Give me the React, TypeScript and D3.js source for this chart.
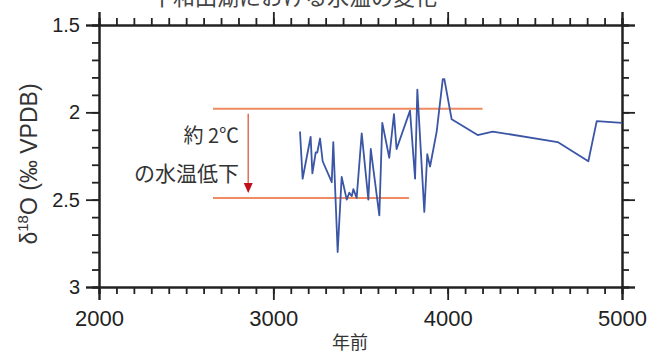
import React, { useEffect, useRef } from 'react';
import * as d3 from 'd3';

// years before present / delta 18O values
const years = [3153, 3168, 3214, 3224, 3243, 3252, 3268, 3283, 3335, 3344, 3369, 3392, 3421, 3436, 3450, 3459, 3478, 3507, 3545, 3559, 3608, 3625, 3665, 3692, 3707, 3784, 3813, 3826, 3866, 3883, 3899, 3937, 3972, 3981, 4023, 4172, 4258, 4631, 4807, 4855, 5000];
const d18O = [2.11, 2.38, 2.14, 2.35, 2.23, 2.23, 2.15, 2.28, 2.40, 2.17, 2.80, 2.37, 2.50, 2.46, 2.48, 2.44, 2.49, 2.12, 2.50, 2.21, 2.59, 2.06, 2.26, 2.01, 2.21, 1.99, 2.38, 1.87, 2.57, 2.24, 2.31, 2.11, 1.81, 1.81, 2.04, 2.13, 2.11, 2.17, 2.28, 2.05, 2.06];

// orange reference levels: [value, start year, end year]
const levelValues = [1.98, 2.49];
const levelStart = [2654, 2654];
const levelEnd = [4200, 3778];
const arrowYear = 2856;

const xTicks = [2000, 3000, 4000, 5000];
const yTicks = [1.5, 2, 2.5, 3];

const W = 651, H = 354;
const CJK = '"Noto Sans CJK JP", "Liberation Sans", sans-serif';
const SANS = '"Liberation Sans", Arial, sans-serif';

export default function App() {
  const ref = useRef<SVGSVGElement>(null);

  useEffect(() => {
    const svg = d3.select(ref.current);
    svg.selectAll('*').remove();

    const x = d3.scaleLinear().domain([2000, 5000]).range([99, 622]);
    const y = d3.scaleLinear().domain([1.5, 3]).range([25, 287]);

    const minorX = d3.range(2000, 5001, 100);
    const minorY = d3.range(1.5, 3.001, 0.1);

    const styleAxis = (g: any) => {
      g.select('.domain').attr('stroke', '#222').attr('stroke-width', 2);
      g.selectAll('.tick line').attr('stroke', '#222').attr('stroke-width', 1.8);
    };

    // minor ticks, all four sides
    svg.append('g').attr('transform', 'translate(0,287)')
      .call(d3.axisBottom(x).tickValues(minorX).tickSize(7).tickFormat(() => '')).call(styleAxis);
    svg.append('g').attr('transform', 'translate(0,25)')
      .call(d3.axisTop(x).tickValues(minorX).tickSize(7).tickFormat(() => '')).call(styleAxis);
    svg.append('g').attr('transform', 'translate(99,0)')
      .call(d3.axisLeft(y).tickValues(minorY).tickSize(7).tickFormat(() => '')).call(styleAxis);
    svg.append('g').attr('transform', 'translate(622,0)')
      .call(d3.axisRight(y).tickValues(minorY).tickSize(7).tickFormat(() => '')).call(styleAxis);

    // major ticks
    const bx = svg.append('g').attr('transform', 'translate(0,287)')
      .call(d3.axisBottom(x).tickValues(xTicks).tickSize(13).tickPadding(10).tickFormat(d3.format('d'))).call(styleAxis);
    bx.selectAll('text').attr('font-family', SANS).attr('font-size', 22).attr('fill', '#222');
    svg.append('g').attr('transform', 'translate(0,25)')
      .call(d3.axisTop(x).tickValues(xTicks).tickSize(13).tickFormat(() => '')).call(styleAxis);
    const ly = svg.append('g').attr('transform', 'translate(99,0)')
      .call(d3.axisLeft(y).tickValues(yTicks).tickSize(13).tickPadding(6).tickFormat(d => String(d))).call(styleAxis);
    ly.selectAll('text').attr('font-family', SANS).attr('font-size', 20).attr('fill', '#222');
    svg.append('g').attr('transform', 'translate(622,0)')
      .call(d3.axisRight(y).tickValues(yTicks).tickSize(13).tickFormat(() => '')).call(styleAxis);

    // orange reference lines
    levelValues.forEach((v, i) => {
      svg.append('line')
        .attr('x1', x(levelStart[i])).attr('x2', x(levelEnd[i]))
        .attr('y1', y(v)).attr('y2', y(v))
        .attr('stroke', '#ef8a62').attr('stroke-width', 2);
    });

    // arrow
    const ax = x(arrowYear);
    svg.append('line')
      .attr('x1', ax).attr('x2', ax)
      .attr('y1', y(levelValues[0]) + 5).attr('y2', y(levelValues[1]) - 12)
      .attr('stroke', '#e0705a').attr('stroke-width', 1.5);
    const tipY = y(levelValues[1]) - 5;
    svg.append('path')
      .attr('d', `M${ax - 4.5},${tipY - 10} L${ax + 4.5},${tipY - 10} L${ax},${tipY} Z`)
      .attr('fill', '#c0101a');

    // data line
    const pts: [number, number][] = years.map((yr, i) => [yr, d18O[i]]);
    svg.append('path')
      .datum(pts)
      .attr('d', d3.line<[number, number]>().x(d => x(d[0])).y(d => y(d[1])))
      .attr('fill', 'none').attr('stroke', '#3a56a5').attr('stroke-width', 1.8)
      .attr('stroke-linejoin', 'round');

    // annotation text
    svg.append('text').attr('x', 239).attr('y', 143).attr('text-anchor', 'end')
      .attr('font-family', CJK).attr('font-size', 20).attr('fill', '#333').text('約 2℃');
    svg.append('text').attr('x', 239).attr('y', 181).attr('text-anchor', 'end')
      .attr('font-family', CJK).attr('font-size', 21).attr('fill', '#333').text('の水温低下');

    // axis titles
    svg.append('text').attr('x', 350).attr('y', 349).attr('text-anchor', 'middle')
      .attr('font-family', CJK).attr('font-size', 18).attr('fill', '#333').text('年前');

    const yt = svg.append('text')
      .attr('transform', 'translate(37,164) rotate(-90)')
      .attr('text-anchor', 'middle')
      .attr('font-family', SANS).attr('font-size', 23).attr('fill', '#333');
    yt.append('tspan').text('δ');
    yt.append('tspan').attr('dy', -9).attr('font-size', 15).text('18');
    yt.append('tspan').attr('dy', 9).text('O (‰ VPDB)');

    // title, cut off at the top of the frame
    svg.append('text').attr('x', 294).attr('y', 5).attr('text-anchor', 'middle')
      .attr('font-family', CJK).attr('font-size', 22).attr('fill', '#444')
      .text('十和田湖における水温の変化');
  }, []);

  return (
    <svg ref={ref} width={W} height={H}
      style={{ position: 'absolute', left: 0, top: 0, background: '#fff' }} />
  );
}
